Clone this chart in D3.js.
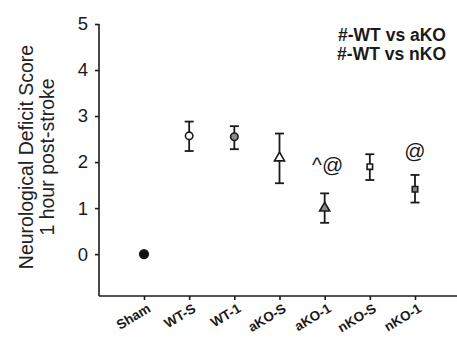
<!DOCTYPE html>
<html>
<head>
<meta charset="utf-8">
<script src="https://cdn.jsdelivr.net/npm/d3@7"></script>
<style>
  html, body { margin: 0; padding: 0; background: #fff; }
  svg { display: block; font-family: Arial, "Liberation Sans", Helvetica, sans-serif; }
</style>
</head>
<body>
<svg id="chart" width="457" height="338"></svg>
<script>
// Groups along the x axis
const groups = ["Sham", "WT-S", "WT-1", "aKO-S", "aKO-1", "nKO-S", "nKO-1"];
// Mean neurological deficit score per group
const means = [0, 2.57, 2.55, 2.09, 1.0, 1.9, 1.41];
// Error bar extents (upper, lower)
const upper = [0, 2.88, 2.78, 2.62, 1.32, 2.17, 1.72];
const lower = [0, 2.24, 2.28, 1.54, 0.68, 1.61, 1.12];
// Marker shape and fill per group
const shapes = ["circle", "circle", "circle", "triangle", "triangle", "square", "square"];
const fills = ["#111", "#fff", "#8a8a8a", "#fff", "#8a8a8a", "#fff", "#8a8a8a"];
// Significance marks placed above groups
const markGroups = ["aKO-1", "nKO-1"];
const markText = ["^@", "@"];
const markValue = [1.78, 2.08];
// Y axis ticks
const yTicks = [0, 1, 2, 3, 4, 5];
// Legend lines
const legendLines = ["#-WT vs aKO", "#-WT vs nKO"];

const svg = d3.select("#chart");
const ink = "#1a1a1a";

const y = d3.scaleLinear().domain([-0.91, 5]).range([296, 24]);
const x = d3.scalePoint().domain(groups).range([144, 415]);

// Y axis
const yAxis = svg.append("g")
  .attr("transform", "translate(99,0)")
  .call(d3.axisLeft(y).tickValues(yTicks).tickFormat(d3.format("d")).tickSize(4).tickSizeOuter(0).tickPadding(7));
yAxis.select(".domain").attr("d", `M0,${y(5)}V${y(-0.91)}`);
yAxis.selectAll("path, line").attr("stroke", ink).attr("stroke-width", 1.6);
yAxis.selectAll("text").attr("font-size", 18.5).attr("fill", ink).attr("font-family", "Arial, Liberation Sans, sans-serif");

// X axis
const xAxis = svg.append("g")
  .attr("transform", `translate(0,${y(-0.91)})`)
  .call(d3.axisBottom(x).tickSize(4).tickSizeOuter(0));
xAxis.select(".domain").attr("d", "M99,0H457");
xAxis.selectAll("path, line").attr("stroke", ink).attr("stroke-width", 1.6);
xAxis.selectAll("text")
  .attr("font-size", 13.5)
  .attr("font-weight", "bold")
  .attr("fill", ink)
  .attr("text-anchor", "end")
  .attr("dy", null)
  .attr("y", null)
  .attr("transform", "translate(7,15) rotate(-31)");

// Y axis title, two lines
const title = svg.append("text")
  .attr("transform", `translate(0,${157}) rotate(-90)`)
  .attr("text-anchor", "middle")
  .attr("font-size", 19.5)
  .attr("fill", "#222");
title.append("tspan").attr("x", 0).attr("y", 33).text("Neurological Deficit Score");
title.append("tspan").attr("x", 0).attr("y", 54).text("1 hour post-stroke");

// Error bars
const capW = 4.5;
const bars = svg.append("g").attr("stroke", ink).attr("stroke-width", 1.8).attr("fill", "none");
groups.forEach((g, i) => {
  if (upper[i] === lower[i]) return;
  const cx = x(g);
  bars.append("line").attr("x1", cx).attr("x2", cx).attr("y1", y(upper[i])).attr("y2", y(lower[i]));
  bars.append("line").attr("x1", cx - capW).attr("x2", cx + capW).attr("y1", y(upper[i])).attr("y2", y(upper[i]));
  bars.append("line").attr("x1", cx - capW).attr("x2", cx + capW).attr("y1", y(lower[i])).attr("y2", y(lower[i]));
});

// Markers
const symbolType = { circle: d3.symbolCircle, triangle: d3.symbolTriangle, square: d3.symbolSquare };
const symbolSize = { circle: 44, triangle: 44, square: 30 };
svg.append("g").selectAll("path")
  .data(groups)
  .join("path")
  .attr("transform", (g, i) => `translate(${x(g)},${y(means[i])})`)
  .attr("d", (g, i) => d3.symbol().type(symbolType[shapes[i]]).size(i === 0 ? 60 : symbolSize[shapes[i]])())
  .attr("fill", (g, i) => fills[i])
  .attr("stroke", ink)
  .attr("stroke-width", 1.6);

// Significance marks
svg.append("g").selectAll("text")
  .data(markGroups)
  .join("text")
  .attr("x", (g, i) => x(g) + (i === 0 ? 3 : 0))
  .attr("y", (g, i) => y(markValue[i]))
  .attr("text-anchor", "middle")
  .attr("font-size", 21)
  .attr("fill", ink)
  .text((g, i) => markText[i]);

// Legend
svg.append("g").selectAll("text")
  .data(legendLines)
  .join("text")
  .attr("x", 446)
  .attr("y", (d, i) => 41 + i * 19)
  .attr("text-anchor", "end")
  .attr("font-size", 17.5)
  .attr("font-weight", "bold")
  .attr("fill", ink)
  .text(d => d);
</script>
</body>
</html>
